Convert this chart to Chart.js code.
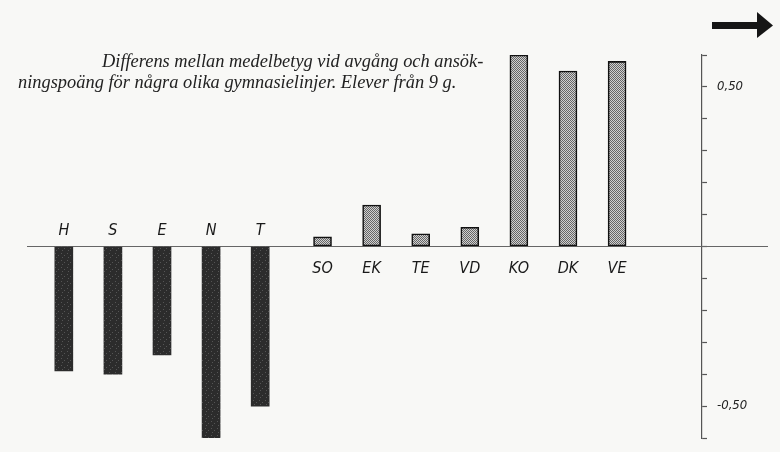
<!DOCTYPE html>
<html>
<head>
<meta charset="utf-8">
<script src="https://cdn.jsdelivr.net/npm/chart.js@4.4.1/dist/chart.umd.min.js"></script>
<style>
  html, body { margin: 0; padding: 0; background: #f8f8f6; }
  canvas { display: block; }
</style>
</head>
<body>
<canvas id="chart" width="780" height="452"></canvas>
<script>
// lines with negative difference (dark bars, name above the axis)
const lowerLines = ['H', 'S', 'E', 'N', 'T'];
const lowerDiff = [-0.39, -0.40, -0.34, -0.60, -0.50];
// lines with positive difference (light bars, name below the axis)
const upperLines = ['SO', 'EK', 'TE', 'VD', 'KO', 'DK', 'VE'];
const upperDiff = [0.03, 0.13, 0.04, 0.06, 0.60, 0.55, 0.58];
const labelledTicks = [0.5, -0.5];
const titleLines = [
    'Differens mellan medelbetyg vid avgång och ansök-',
    'ningspoäng för några olika gymnasielinjer. Elever från 9 g.'
];

const groupGap = 0.27;
const labelFont = 'italic 16px "DejaVu Sans Condensed", "DejaVu Sans"';

function makePattern(w, h, bg, fg, dots) {
    const c = document.createElement('canvas');
    c.width = w;
    c.height = h;
    const g = c.getContext('2d');
    g.fillStyle = bg;
    g.fillRect(0, 0, w, h);
    g.fillStyle = fg;
    dots.forEach(d => g.fillRect(d[0], d[1], 1, 1));
    return g.createPattern(c, 'repeat');
}

const ctx = document.getElementById('chart').getContext('2d');
const darkFill = makePattern(6, 7, '#2c2c2c', '#555', [[1, 1], [4, 3], [2, 5]]);
const lightFill = makePattern(2, 2, '#d0d0d0', '#666', [[0, 0], [1, 1]]);

const decor = {
    id: 'decor',
    beforeDatasetsDraw(chart) {
        const c = chart.ctx;
        const y0 = chart.scales.y.getPixelForValue(0);
        c.save();
        c.strokeStyle = '#666';
        c.lineWidth = 1.2;
        c.beginPath();
        c.moveTo(27, y0);
        c.lineTo(768, y0);
        c.stroke();
        c.restore();
    },
    afterDraw(chart) {
        const c = chart.ctx;
        const y0 = chart.scales.y.getPixelForValue(0);
        c.save();

        // line names next to the zero line
        c.font = labelFont;
        c.fillStyle = '#1a1a1a';
        c.textAlign = 'center';
        c.textBaseline = 'middle';
        chart.data.datasets.forEach((ds, di) => {
            chart.getDatasetMeta(di).data.forEach((bar, i) => {
                const v = ds.data[i].y;
                c.fillText(ds.lineNames[i], bar.x, v < 0 ? y0 - 16 : y0 + 22);
            });
        });

        // caption
        c.font = 'italic 18.4px "Liberation Serif"';
        c.textAlign = 'left';
        c.textBaseline = 'alphabetic';
        c.fillStyle = '#222';
        c.fillText(titleLines[0], 102, 67);
        c.fillText(titleLines[1], 18, 88);

        // arrow top right
        c.fillStyle = '#161616';
        c.fillRect(712, 22, 47, 7);
        c.beginPath();
        c.moveTo(757, 12);
        c.lineTo(773, 25.5);
        c.lineTo(757, 38);
        c.closePath();
        c.fill();
        c.restore();
    }
};

new Chart(ctx, {
    type: 'bar',
    data: {
        datasets: [
            {
                data: lowerDiff.map((v, i) => ({ x: i, y: v })),
                lineNames: lowerLines,
                backgroundColor: darkFill,
                borderWidth: 0,
                barThickness: 18,
                grouped: false
            },
            {
                data: upperDiff.map((v, j) => ({ x: lowerLines.length + j + groupGap, y: v })),
                lineNames: upperLines,
                backgroundColor: lightFill,
                borderColor: '#111',
                borderWidth: 1.6,
                borderSkipped: false,
                barThickness: 18,
                grouped: false
            }
        ]
    },
    options: {
        responsive: false,
        animation: false,
        layout: { padding: { left: 27, right: 0, top: 55, bottom: 14 } },
        plugins: { legend: { display: false }, tooltip: { enabled: false } },
        scales: {
            x: {
                type: 'linear',
                min: -0.75,
                max: 13.0,
                offset: false,
                display: false
            },
            y: {
                position: 'right',
                min: -0.6,
                max: 0.6,
                afterFit: s => { s.width = 78; s.paddingTop = 0; s.paddingBottom = 0; },
                border: { display: true, color: '#555', width: 1.2 },
                grid: { drawOnChartArea: false, drawTicks: true, tickLength: 5, tickColor: '#555', tickWidth: 1.2 },
                ticks: {
                    stepSize: 0.1,
                    padding: 10,
                    color: '#222',
                    font: { family: '"DejaVu Sans Condensed", "DejaVu Sans"', style: 'italic', size: 13 },
                    callback: v => labelledTicks.some(t => Math.abs(t - v) < 1e-9) ? v.toFixed(2).replace('.', ',') : ''
                }
            }
        }
    },
    plugins: [decor]
});
</script>
</body>
</html>
